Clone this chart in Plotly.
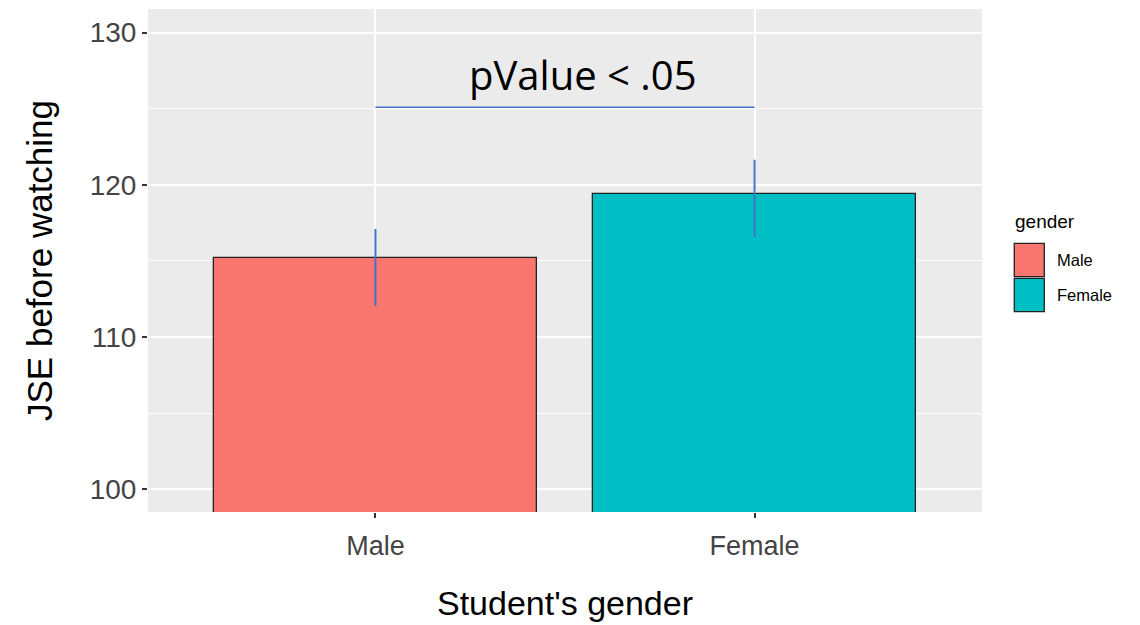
"""
Bar chart: JSE before watching by student's gender (ggplot look).
"""
import plotly.graph_objects as go

# data
genders = ['Male', 'Female']
jse_mean = [115.2, 119.4]
err_up = [1.9, 2.25]
err_down = [3.15, 2.85]
bar_colors = ['#F8766D', '#00BFC4']
bracket_y = 125.1
pvalue_text = 'pValue < .05'
y_ticks = [100, 110, 120, 130]

BLUE = '#4472C4'
FONT = 'Liberation Sans, Arial, sans-serif'

fig = go.Figure()

# stupci
fig.add_trace(go.Bar(
    x=genders,
    y=jse_mean,
    width=0.85,
    marker=dict(color=bar_colors, line=dict(color='#222222', width=1.3)),
    error_y=dict(
        type='data', symmetric=False,
        array=err_up, arrayminus=err_down,
        color=BLUE, thickness=2, width=0
    ),
    showlegend=False,
    hoverinfo='x+y'
))

# linija za p-vrijednost
fig.add_trace(go.Scatter(
    x=genders,
    y=[bracket_y, bracket_y],
    mode='lines',
    line=dict(color=BLUE, width=1.5),
    showlegend=False,
    hoverinfo='skip'
))

fig.add_annotation(
    text=pvalue_text,
    xref='paper', yref='y',
    x=0.5216, y=127.25,
    showarrow=False,
    font=dict(family='Open Sans, sans-serif', size=40, color='black')
)

# legenda (ručno, ggplot stil s velikim kvadratima)
fig.add_annotation(
    text='gender', xref='paper', yref='paper',
    x=1.0372, y=0.577, xanchor='left', yanchor='middle',
    showarrow=False, font=dict(family=FONT, size=19, color='black')
)
sw_top = 0.5342
sw_h = 0.0664
sw_gap = 0.0032
for i, (g, c) in enumerate(zip(genders, bar_colors)):
    y1 = sw_top - i * (sw_h + sw_gap)
    y0 = y1 - sw_h
    fig.add_shape(
        type='rect', xref='paper', yref='paper',
        x0=1.0387, x1=1.0747, y0=y0, y1=y1,
        fillcolor=c, line=dict(color='#222222', width=1.3)
    )
    fig.add_annotation(
        text=g, xref='paper', yref='paper',
        x=1.0875, y=(y0 + y1) / 2, xanchor='left', yanchor='middle',
        showarrow=False, font=dict(family=FONT, size=16.5, color='black')
    )

# stranica ima 8px margine tijela, pa je figura malo manja
fig.update_layout(
    width=1132, height=617,
    margin=dict(l=140, r=158, t=1, b=113),
    paper_bgcolor='white',
    plot_bgcolor='#EBEBEB',
    font=dict(family=FONT),
    bargap=0,
    xaxis=dict(
        type='category',
        range=[-0.6, 1.6],
        showgrid=True, gridcolor='white', gridwidth=1.6,
        ticks='outside', ticklen=5, tickwidth=1.5, tickcolor='#333333',
        ticklabelstandoff=5,
        tickfont=dict(size=27, color='#444444'),
        title=dict(text="Student's gender", font=dict(size=34, color='black'), standoff=30),
        zeroline=False, showline=False
    ),
    yaxis=dict(
        range=[98.51, 131.55],
        tickvals=y_ticks,
        showgrid=True, gridcolor='white', gridwidth=1.6,
        minor=dict(dtick=5, tick0=95, showgrid=True, gridcolor='white', gridwidth=0.8),
        ticks='outside', ticklen=5, tickwidth=1.5, tickcolor='#333333',
        tickfont=dict(size=28, color='#444444'),
        title=dict(text='JSE before watching', font=dict(size=35, color='black'), standoff=26),
        zeroline=False, showline=False
    )
)

fig.write_html('out.html')
